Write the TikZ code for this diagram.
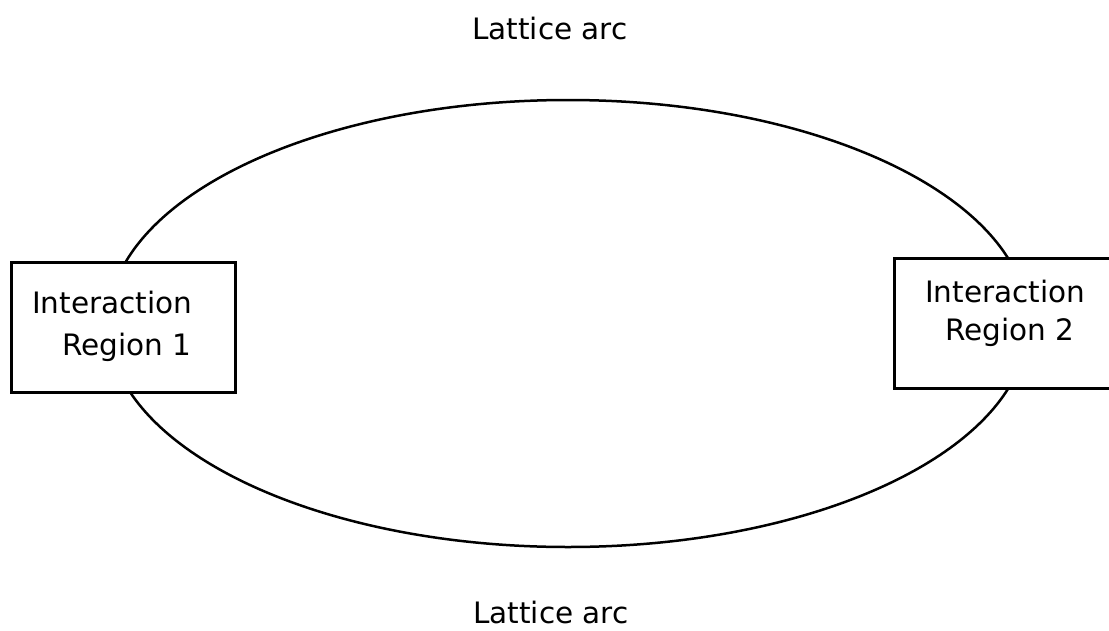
\documentclass[tikz,border=0pt]{standalone}
\usepackage{fontspec}
\setmainfont{DejaVu Sans}
\usetikzlibrary{shapes.geometric}
\begin{document}
\begin{tikzpicture}[x=1pt,y=-1pt,
  ring/.style={draw=black,line width=2.5pt},
  irbox/.style={draw=black,fill=white,line width=3pt,rectangle,inner sep=0pt},
  lbl/.style={inner sep=0pt,anchor=base west,font=\fontsize{29.5}{36}\selectfont}]
\useasboundingbox (0,0) rectangle (1109,630);
\clip (0,0) rectangle (1109,630);
\fill[white] (0,0) rectangle (1109,630);
\node[ring,ellipse,minimum width=920pt,minimum height=447pt,inner sep=0pt] (ring) at (568,323.5) {};
\node[irbox,minimum width=224pt,minimum height=130pt] (ir1) at (123,327) {};
\node[irbox,minimum width=220pt,minimum height=130pt] (ir2) at (1004,323) {};
\node[lbl] (ir1a) at (32,313) {Interaction};
\node[lbl] (ir1b) at (62,355) {Region 1};
\node[lbl] (ir2a) at (925,302) {Interaction};
\node[lbl] (ir2b) at (945,340) {Region 2};
\node[lbl] (top) at (472,39) {Lattice arc};
\node[lbl] (bot) at (473,623) {Lattice arc};
\end{tikzpicture}
\end{document}
